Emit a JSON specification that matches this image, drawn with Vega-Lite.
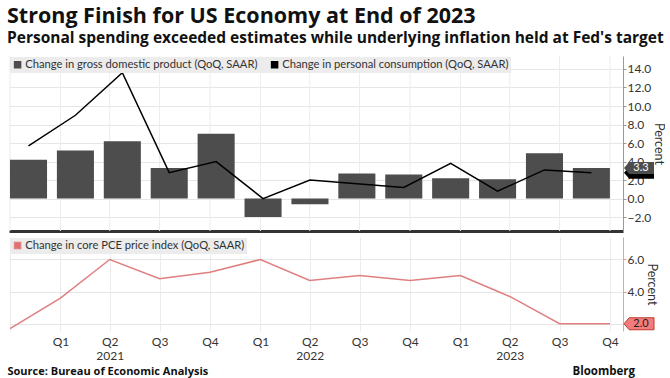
{
  "$schema": "https://vega.github.io/schema/vega-lite/v6.json",
  "padding": {"left": 7, "top": 5, "right": 0, "bottom": 0},
  "background": "white",
  "title": {
    "text": "Strong Finish for US Economy at End of 2023",
    "subtitle": "Personal spending exceeded estimates while underlying inflation held at Fed's target",
    "anchor": "start",
    "font": "Open Sans",
    "fontSize": 21.5,
    "fontWeight": "bold",
    "color": "#111111",
    "subtitleFont": "Open Sans",
    "subtitleFontSize": 15.5,
    "subtitleFontWeight": "bold",
    "subtitleColor": "#111111",
    "subtitlePadding": 4,
    "offset": 9
  },
  "data": {
    "values": [
      {"date": "2020-10-01", "q": "2020Q4", "gdp": 4.2, "pce": 5.7, "core": 1.7},
      {"date": "2021-01-01", "q": "2021Q1", "gdp": 5.2, "pce": 9.0, "core": 3.6},
      {"date": "2021-04-01", "q": "2021Q2", "gdp": 6.2, "pce": 13.6, "core": 6.0},
      {"date": "2021-07-01", "q": "2021Q3", "gdp": 3.3, "pce": 2.8, "core": 4.8},
      {"date": "2021-10-01", "q": "2021Q4", "gdp": 7.0, "pce": 4.0, "core": 5.2},
      {"date": "2022-01-01", "q": "2022Q1", "gdp": -2.0, "pce": 0.0, "core": 6.0},
      {"date": "2022-04-01", "q": "2022Q2", "gdp": -0.6, "pce": 2.0, "core": 4.7},
      {"date": "2022-07-01", "q": "2022Q3", "gdp": 2.7, "pce": 1.6, "core": 5.0},
      {"date": "2022-10-01", "q": "2022Q4", "gdp": 2.6, "pce": 1.2, "core": 4.7},
      {"date": "2023-01-01", "q": "2023Q1", "gdp": 2.2, "pce": 3.8, "core": 5.0},
      {"date": "2023-04-01", "q": "2023Q2", "gdp": 2.1, "pce": 0.8, "core": 3.7},
      {"date": "2023-07-01", "q": "2023Q3", "gdp": 4.9, "pce": 3.1, "core": 2.0},
      {"date": "2023-10-01", "q": "2023Q4", "gdp": 3.3, "pce": 2.8, "core": 2.0}
    ]
  },
  "spacing": 5,
  "resolve": {
    "scale": {"color": "independent", "x": "independent", "y": "independent"},
    "legend": {"color": "independent"}
  },
  "vconcat": [
    {
      "width": 614,
      "height": 175,
      "resolve": {"scale": {"x": "independent"}},
      "layer": [
        {
          "mark": {"type": "rule", "color": "#ececec", "strokeWidth": 1},
          "encoding": {
            "x": {
              "field": "date",
              "type": "temporal",
              "scale": {
                "type": "utc",
                "domain": [
                  {"year": 2020, "month": 9, "date": 29, "hours": 4, "utc": true},
                  {"year": 2023, "month": 10, "date": 24, "hours": 17, "utc": true}
                ]
              },
              "axis": {"labels": false, "ticks": false, "grid": false, "domain": true, "domainColor": "#333333", "domainWidth": 3, "title": null}
            }
          }
        },
        {
          "layer": [
            {
              "mark": {"type": "bar", "color": "#4d4d4d"},
              "encoding": {
                "x": {
                  "field": "q",
                  "type": "ordinal",
                  "scale": {"paddingInner": 0.21, "paddingOuter": 0.15, "align": 0.07},
                  "axis": null
                },
                "y": {
                  "field": "gdp",
                  "type": "quantitative",
                  "scale": {"domain": [-3.5, 15.4], "nice": false, "zero": false},
                  "axis": {"orient": "right", "values": [-2, 0, 2, 4, 6, 8, 10, 12, 14], "format": ".1f", "labelOverlap": false, "grid": true, "gridColor": "#e6e6e6", "domainColor": "#999999", "tickColor": "#999999", "tickSize": 3, "labelPadding": 1, "labelFontSize": 12, "labelColor": "#333333", "title": "Percent", "titleFontSize": 12.5, "titleFontWeight": "normal", "titleColor": "#333333", "titlePadding": 1}
                },
                "color": {
                  "datum": "Change in gross domestic product (QoQ, SAAR)",
                  "scale": {
                    "domain": ["Change in gross domestic product (QoQ, SAAR)", "Change in personal consumption (QoQ, SAAR)"],
                    "range": ["#4d4d4d", "#000000"]
                  },
                  "legend": {
                    "orient": "top-left",
                    "direction": "horizontal",
                    "fillColor": "#ececec",
                    "padding": 2,
                    "offset": 1,
                    "symbolType": "square",
                    "symbolSize": 36,
                    "symbolOffset": 0,
                    "labelOffset": 2,
                    "labelFontSize": 11.2,
                    "labelLimit": 0,
                    "labelColor": "#333333",
                    "columnPadding": 10,
                    "title": null
                  }
                }
              }
            },
            {
              "mark": {"type": "line", "strokeWidth": 1.5},
              "encoding": {
                "x": {"field": "q", "type": "ordinal"},
                "y": {
                  "field": "pce",
                  "type": "quantitative",
                  "axis": {"orient": "right", "values": [-2, 0, 2, 4, 6, 8, 10, 12, 14], "format": ".1f", "labelOverlap": false, "grid": true, "gridColor": "#e6e6e6", "domainColor": "#999999", "tickColor": "#999999", "tickSize": 3, "labelPadding": 1, "labelFontSize": 12, "labelColor": "#333333", "title": "Percent", "titleFontSize": 12.5, "titleFontWeight": "normal", "titleColor": "#333333", "titlePadding": 1}
                },
                "color": {"datum": "Change in personal consumption (QoQ, SAAR)"}
              }
            },
            {
              "transform": [{"filter": {"field": "q", "equal": "2023Q4"}}],
              "mark": {"type": "point", "x": "width", "xOffset": 16, "shape": "M-1,0 L-0.65,-0.4 L1,-0.4 L1,0.4 L-0.65,0.4 Z", "size": 900, "filled": true, "fill": "#000000", "opacity": 1, "strokeWidth": 0, "zindex": 2},
              "encoding": {
                "y": {
                  "field": "pce",
                  "type": "quantitative",
                  "axis": {"orient": "right", "values": [-2, 0, 2, 4, 6, 8, 10, 12, 14], "format": ".1f", "labelOverlap": false, "grid": true, "gridColor": "#e6e6e6", "domainColor": "#999999", "tickColor": "#999999", "tickSize": 3, "labelPadding": 1, "labelFontSize": 12, "labelColor": "#333333", "title": "Percent", "titleFontSize": 12.5, "titleFontWeight": "normal", "titleColor": "#333333", "titlePadding": 1}
                }
              }
            },
            {
              "transform": [{"filter": {"field": "q", "equal": "2023Q4"}}],
              "mark": {"type": "point", "x": "width", "xOffset": 16, "shape": "M-1,0 L-0.65,-0.4 L1,-0.4 L1,0.4 L-0.65,0.4 Z", "size": 900, "filled": true, "fill": "#4d4d4d", "opacity": 1, "strokeWidth": 0, "zindex": 3},
              "encoding": {
                "y": {
                  "field": "gdp",
                  "type": "quantitative",
                  "axis": {"orient": "right", "values": [-2, 0, 2, 4, 6, 8, 10, 12, 14], "format": ".1f", "labelOverlap": false, "grid": true, "gridColor": "#e6e6e6", "domainColor": "#999999", "tickColor": "#999999", "tickSize": 3, "labelPadding": 1, "labelFontSize": 12, "labelColor": "#333333", "title": "Percent", "titleFontSize": 12.5, "titleFontWeight": "normal", "titleColor": "#333333", "titlePadding": 1}
                }
              }
            },
            {
              "transform": [{"filter": {"field": "q", "equal": "2023Q4"}}],
              "mark": {"type": "text", "x": "width", "dx": 18, "align": "center", "baseline": "middle", "fontSize": 11, "color": "#ffffff", "zindex": 4},
              "encoding": {
                "y": {
                  "field": "gdp",
                  "type": "quantitative",
                  "axis": {"orient": "right", "values": [-2, 0, 2, 4, 6, 8, 10, 12, 14], "format": ".1f", "labelOverlap": false, "grid": true, "gridColor": "#e6e6e6", "domainColor": "#999999", "tickColor": "#999999", "tickSize": 3, "labelPadding": 1, "labelFontSize": 12, "labelColor": "#333333", "title": "Percent", "titleFontSize": 12.5, "titleFontWeight": "normal", "titleColor": "#333333", "titlePadding": 1}
                },
                "text": {"field": "gdp", "type": "quantitative", "format": ".1f"}
              }
            }
          ]
        }
      ]
    },
    {
      "width": 614,
      "height": 94,
      "title": {"text": "Bloomberg", "orient": "bottom", "anchor": "end", "frame": "group", "font": "Open Sans", "fontSize": 11.5, "fontWeight": "bold", "color": "#111111", "offset": 0, "dy": -10, "dx": 12},
      "layer": [
        {
          "mark": {"type": "line", "strokeWidth": 1.5},
          "encoding": {
            "x": {
              "field": "date",
              "type": "temporal",
              "scale": {
                "type": "utc",
                "domain": [
                  {"year": 2020, "month": 9, "date": 29, "hours": 4, "utc": true},
                  {"year": 2023, "month": 10, "date": 24, "hours": 17, "utc": true}
                ]
              },
              "axis": {
                "tickCount": {"interval": "month", "step": 3},
                "labelExpr": "utcyear(datum.value) < 2021 ? '' : (utcquarter(datum.value) == 2 ? ['Q2', '' + utcyear(datum.value)] : 'Q' + utcquarter(datum.value))",
                "grid": true,
                "gridColor": "#ececec",
                "ticks": false,
                "domain": false,
                "labelFontSize": 12,
                "labelColor": "#333333",
                "labelPadding": 5,
                "labelLineHeight": 14,
                "labelOverlap": false,
                "title": "Source: Bureau of Economic Analysis",
                "titleFont": "Open Sans",
                "titleAnchor": "start",
                "titleAlign": "left",
                "titleX": -2,
                "titleY": 40,
                "titleBaseline": "middle",
                "titleFontSize": 11,
                "titleFontWeight": "bold",
                "titleColor": "#111111"
              }
            },
            "y": {
              "field": "core",
              "type": "quantitative",
              "scale": {"domain": [1.55, 7.4], "nice": false, "zero": false},
              "axis": {
                "orient": "right",
                "values": [2, 4, 6],
                "format": ".1f",
                "labelOverlap": false,
                "grid": true,
                "gridColor": "#e6e6e6",
                "domainColor": "#e8a0a0",
                "tickColor": "#e8a0a0",
                "tickSize": 3,
                "labelPadding": 1,
                "labelFontSize": 12,
                "labelColor": "#333333",
                "title": "Percent",
                "titleFontSize": 12.5,
                "titleFontWeight": "normal",
                "titleColor": "#333333",
                "titlePadding": 1
              }
            },
            "color": {
              "datum": "Change in core PCE price index (QoQ, SAAR)",
              "scale": {"range": ["#e07f7f"]},
              "legend": {
                "orient": "top-left",
                "direction": "horizontal",
                "fillColor": "#ececec",
                "padding": 2,
                "offset": 1,
                "symbolType": "square",
                "symbolSize": 36,
                "symbolOffset": 0,
                "labelOffset": 2,
                "symbolFillColor": "#e07070",
                "labelFontSize": 11.2,
                "labelLimit": 0,
                "labelColor": "#333333",
                "title": null
              }
            }
          }
        },
        {
          "transform": [{"filter": {"field": "q", "equal": "2023Q4"}}],
          "mark": {"type": "point", "x": "width", "xOffset": 16, "shape": "M-1,0 L-0.65,-0.4 L1,-0.4 L1,0.4 L-0.65,0.4 Z", "size": 900, "filled": true, "fill": "#f47c7c", "stroke": "#c0392b", "strokeWidth": 1, "opacity": 1, "zindex": 2},
          "encoding": {"y": {"field": "core", "type": "quantitative"}}
        },
        {
          "transform": [{"filter": {"field": "q", "equal": "2023Q4"}}],
          "mark": {"type": "text", "x": "width", "dx": 18, "align": "center", "baseline": "middle", "fontSize": 11, "color": "#222222", "zindex": 3},
          "encoding": {"y": {"field": "core", "type": "quantitative"}, "text": {"field": "core", "type": "quantitative", "format": ".1f"}}
        }
      ]
    }
  ],
  "config": {
    "font": "Lato",
    "view": {"stroke": null},
    "axis": {"labelFont": "Lato", "titleFont": "Lato", "labelOverlap": false},
    "legend": {"labelFont": "Lato"}
  }
}
